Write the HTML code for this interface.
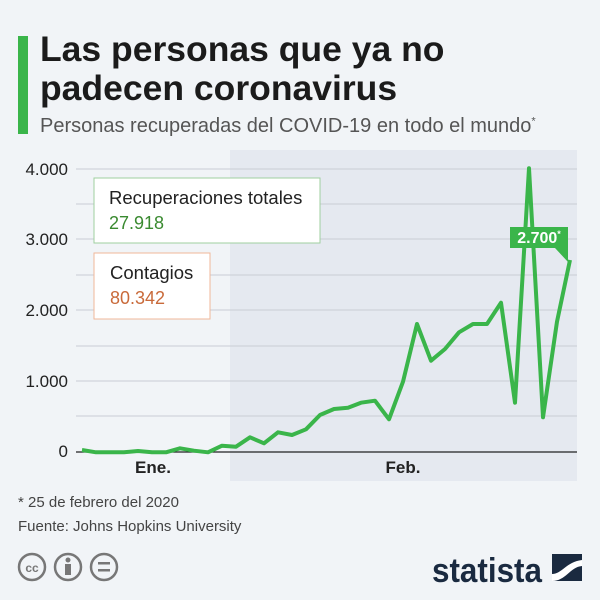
<!DOCTYPE html>
<html><head><meta charset="utf-8"><style>
body{margin:0;width:600px;height:600px;background:#f1f4f7;font-family:"Liberation Sans",sans-serif;overflow:hidden;position:relative}
.t{position:absolute;left:40px;top:30px;font-size:35.5px;font-weight:bold;color:#1b1b1b;line-height:39px}
.bar{position:absolute;left:18px;top:36px;width:10px;height:98px;background:#3ab54a}
.s{position:absolute;left:40px;top:115px;font-size:20px;color:#555}
</style></head><body>
<div class="bar"></div>
<div class="t">Las personas que ya no<br>padecen coronavirus</div>
<div class="s">Personas recuperadas del COVID-19 en todo el mundo<sup style="font-size:11px">*</sup></div>
<svg width="600" height="600" style="position:absolute;left:0;top:0" font-family="Liberation Sans, sans-serif">
<rect x="230" y="150" width="347" height="331" fill="#e5e9f0"/>
<g stroke="#c9cdd4" stroke-width="1">
<line x1="76" x2="577" y1="169" y2="169"/><line x1="76" x2="577" y1="204" y2="204"/>
<line x1="76" x2="577" y1="239" y2="239"/><line x1="76" x2="577" y1="275" y2="275"/>
<line x1="76" x2="577" y1="310" y2="310"/><line x1="76" x2="577" y1="346" y2="346"/>
<line x1="76" x2="577" y1="381" y2="381"/><line x1="76" x2="577" y1="416" y2="416"/>
</g>
<line x1="76" x2="577" y1="452" y2="452" stroke="#222" stroke-width="1.2"/>
<g font-size="17" fill="#222" text-anchor="end">
<text x="68" y="175">4.000</text><text x="68" y="245">3.000</text>
<text x="68" y="316">2.000</text><text x="68" y="387">1.000</text><text x="68" y="457">0</text>
</g>
<g font-size="17" font-weight="bold" fill="#222" text-anchor="middle">
<text x="153" y="473">Ene.</text><text x="403" y="473">Feb.</text></g>
<polyline fill="none" stroke="#3ab54a" stroke-width="4" stroke-linejoin="round" points="82,450 96,452.3 110,452.3 124,452.3 138,451 152,452.3 166,452.3 180,448.3 194,450.7 208,452.3 222,445.7 236,446.7 250,437.3 264,443.3 278,432.3 292,435 306,429.3 320,415 334,409 348,407.7 361,402.7 375,400.7 389,419.3 403,381.7 417,324 431,360.7 445,349 459,332.3 473,324 487,324 501,302.7 515,402.7 529,168.3 543,417.3 557,321.7 570,260"/>
<rect x="94" y="178" width="226" height="65" fill="#fff" stroke="#9fcf9f"/>
<text x="109" y="204" font-size="18.5" fill="#222">Recuperaciones totales</text>
<text x="109" y="229" font-size="18" fill="#3a8a30">27.918</text>
<rect x="94" y="253" width="116" height="66" fill="#fff" stroke="#f0b79a"/>
<text x="110" y="279" font-size="18.5" fill="#222">Contagios</text>
<text x="110" y="304" font-size="18" fill="#c96a3a">80.342</text>
<rect x="510" y="227" width="58" height="21" fill="#3ab54a"/>
<polygon points="555,248 568,248 568,262" fill="#3ab54a"/>
<text x="539" y="243" font-size="16" font-weight="bold" fill="#fff" text-anchor="middle">2.700<tspan font-size="9" dy="-6">*</tspan></text>
<text x="18" y="507" font-size="15" fill="#444">* 25 de febrero del 2020</text>
<text x="18" y="531" font-size="15" fill="#444">Fuente: Johns Hopkins University</text>
<g fill="none" stroke="#777" stroke-width="2.5">
<circle cx="32" cy="567" r="13"/><circle cx="68" cy="567" r="13"/><circle cx="104" cy="567" r="13"/></g>
<text x="32" y="572" font-size="12" font-weight="bold" fill="#777" text-anchor="middle">cc</text>
<circle cx="68" cy="560" r="2.5" fill="#777"/><rect x="65" y="564" width="6" height="11" fill="#777"/>
<rect x="98" y="562" width="12" height="2.5" fill="#777"/><rect x="98" y="569" width="12" height="2.5" fill="#777"/>
<text x="432" y="582" font-size="34" font-weight="bold" fill="#1a2a40" textLength="110" lengthAdjust="spacingAndGlyphs">statista</text>
<rect x="552" y="554" width="30" height="27" fill="#1a2a40"/>
<path d="M552,574 C562,574 566,562 582,560 L582,566 C570,567 566,581 552,581Z" fill="#fff"/>
</svg>
</body></html>
